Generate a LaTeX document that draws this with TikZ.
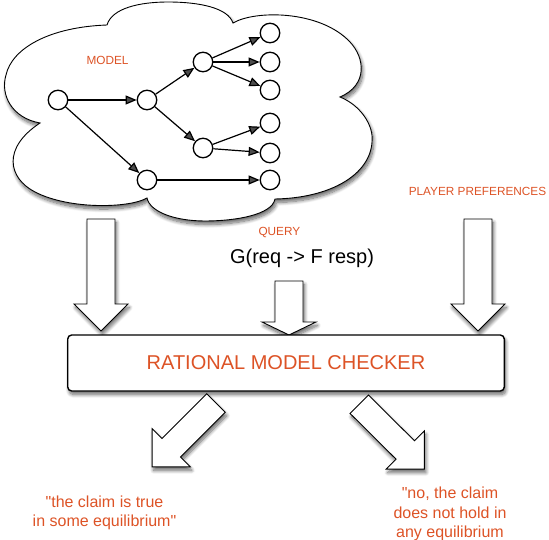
\documentclass[tikz,border=0pt]{standalone}
\usepackage{fontspec}
\setmainfont{Liberation Sans}
\usetikzlibrary{arrows.meta,shadows.blur}
\definecolor{labelorange}{RGB}{221,83,38}

\begin{document}
\begin{tikzpicture}[x=1pt,y=-1pt,
  soft shadow/.style={blur shadow={shadow xshift=1.5pt,shadow yshift=-3.5pt,
      shadow blur radius=3.5pt,shadow blur steps=10,shadow opacity=60}},
  cloudshape/.style={draw=black,line width=0.9pt,fill=white,soft shadow},
  blockarrow/.style={draw=black,line width=0.9pt,fill=white,soft shadow,line join=miter},
  checkerbox/.style={draw=black,line width=1.4pt,fill=white,rounded corners=4pt,soft shadow,
      text=labelorange,font=\fontsize{20}{24}\selectfont},
  state/.style={circle,draw=black,line width=1.3pt,fill=white,minimum size=19.5pt,inner sep=0pt},
  trans/.style={line width=1.2pt,-{Triangle[length=11pt,width=9pt]}},
  tag/.style={text=labelorange,font=\fontsize{11.8}{14}\selectfont,inner sep=0pt},
  formula/.style={text=black,font=\fontsize{20}{24}\selectfont,inner sep=0pt},
  answer/.style={text=labelorange,font=\fontsize{16}{19.5}\selectfont,align=center,inner sep=0pt},
]
\useasboundingbox (0,0) rectangle (549,540);

% the cloud holding the game model
\path[cloudshape] (40,123)
  .. controls (12,118) and (0,95) .. (6,75)
  .. controls (12,48) and (50,27) .. (107,25)
  .. controls (112,8) and (140,2) .. (168,2)
  .. controls (200,2) and (228,8) .. (233,23)
  .. controls (255,10) and (320,10) .. (350,42)
  .. controls (365,58) and (368,85) .. (340,97)
  .. controls (360,105) and (374,125) .. (372,142)
  .. controls (370,175) and (330,198) .. (275,199)
  .. controls (272,215) and (235,221) .. (205,221)
  .. controls (175,221) and (150,212) .. (147,198)
  .. controls (130,208) and (70,210) .. (35,192)
  .. controls (8,178) and (2,148) .. (40,123) -- cycle;

\node[tag] (modeltag) at (107.5,60) {MODEL};

% branching-time model
\node[state] (s0) at (58,100) {};
\node[state] (s1) at (147,100) {};
\node[state] (s2) at (147,180) {};
\node[state] (s3) at (203,62) {};
\node[state] (s4) at (203,148) {};
\node[state] (l1) at (270,33) {};
\node[state] (l2) at (270,62) {};
\node[state] (l3) at (270,90) {};
\node[state] (l4) at (270,123) {};
\node[state] (l5) at (270,153) {};
\node[state] (l6) at (270,180) {};

\draw[trans] (s0) -- (s1);
\draw[trans] (s0) -- (s2);
\draw[trans] (s1) -- (s3);
\draw[trans] (s1) -- (s4);
\draw[trans] (s3) -- (l1);
\draw[trans] (s3) -- (l2);
\draw[trans] (s3) -- (l3);
\draw[trans] (s4) -- (l4);
\draw[trans] (s4) -- (l5);
\draw[trans] (s2) -- (l6);

% inputs
\node[tag] (querytag) at (279.4,232.5) {QUERY};
\node[formula] (query) at (302,258.5) {G(req -> F resp)};
\node[tag] (preftag) at (477.5,191) {PLAYER PREFERENCES};

\path[blockarrow] (87,219) -- (87,304) -- (74,304) -- (101,331) -- (128,304) -- (115,304) -- (115,219) -- cycle;
\path[blockarrow] (275,281) -- (275,322) -- (262,322) -- (289,335) -- (316,322) -- (303,322) -- (303,281) -- cycle;
\path[blockarrow] (464,219) -- (464,304) -- (451,304) -- (478,331) -- (505,304) -- (492,304) -- (492,219) -- cycle;

% the checker
\node[checkerbox,minimum width=436.6pt,minimum height=56pt] (checker) at (286,363) {RATIONAL MODEL CHECKER};

% outputs
\path[blockarrow] (206.8,393.8) -- (162,438.6) -- (152.1,428.7) -- (152.1,466.9) -- (190.3,466.9) -- (180.4,457) -- (225.2,412.2) -- cycle;
\path[blockarrow] (368.4,395) -- (414.5,440.8) -- (424.4,430.9) -- (424.4,469.1) -- (386.2,469.1) -- (396.1,459.2) -- (350,413.4) -- cycle;

\node[answer] (yes) at (104.5,513) {\textquotedbl the claim is true\\in some equilibrium\textquotedbl};
\node[answer] (no) at (450,514) {\textquotedbl no, the claim\\does not hold in\\any equilibrium};
\end{tikzpicture}
\end{document}
